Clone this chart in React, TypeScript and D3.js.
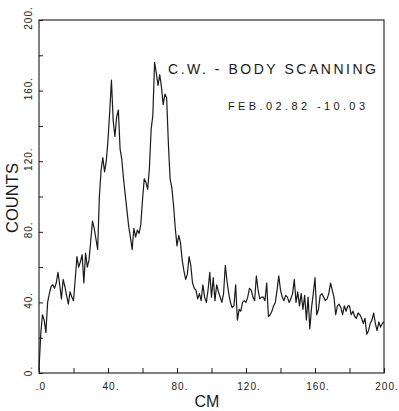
import React, { useEffect, useRef } from 'react';
import * as d3 from 'd3';

// counts per cm (0..200 cm)
const counts: number[] = [
  2, 22, 33, 30, 23, 40, 45, 49, 50, 48,
  51, 57, 50, 42, 53, 49, 44, 39, 46, 43,
  41, 53, 66, 60, 63, 67, 51, 68, 60, 64,
  75, 86, 82, 76, 70, 100, 115, 122, 114, 120,
  132, 148, 166, 143, 134, 145, 149, 127, 121, 110,
  101, 92, 83, 77, 70, 82, 77, 81, 79, 84,
  98, 110, 108, 104, 116, 138, 146, 176, 170, 163,
  169, 162, 152, 158, 156, 130, 110, 105, 95, 82,
  72, 78, 74, 64, 58, 53, 56, 66, 61, 51,
  48, 47, 42, 45, 41, 50, 43, 40, 47, 57,
  43, 54, 41, 50, 46, 43, 40, 45, 61, 52,
  45, 40, 37, 38, 50, 30, 36, 35, 40, 41,
  40, 43, 48, 47, 43, 41, 55, 47, 42, 43,
  43, 41, 51, 32, 33, 35, 38, 40, 47, 55,
  47, 43, 41, 44, 43, 40, 42, 45, 53, 40,
  46, 38, 45, 36, 44, 30, 43, 25, 37, 45,
  54, 33, 36, 44, 45, 43, 41, 42, 45, 51,
  47, 43, 33, 38, 39, 37, 33, 38, 35, 38,
  38, 33, 35, 32, 31, 34, 33, 31, 28, 31,
  22, 24, 28, 30, 34, 28, 24, 29, 26, 28,
  29,
];
const xTickValues = [0, 20, 40, 60, 80, 100, 120, 140, 160, 180, 200];
const xLabels = ['.0', '40.', '80.', '120.', '160.', '200.'];
const yTickValues = [0, 20, 40, 60, 80, 100, 120, 140, 160, 180, 200];
const yLabels = ['0.', '40.', '80.', '120.', '160.', '200.'];
const title = 'C.W. - BODY SCANNING';
const subtitle = 'FEB.02.82 -10.03';

const W = 399;
const H = 411;
const ink = '#1a1a1a';
const font = '"Liberation Sans", "DejaVu Sans", sans-serif';

export default function App() {
  const ref = useRef<SVGSVGElement>(null);

  useEffect(() => {
    const svg = d3.select(ref.current);
    svg.selectAll('*').remove();

    const left = 39, right = 384, top = 20, bottom = 373;
    const x = d3.scaleLinear().domain([0, 200]).range([left, right]);
    const y = d3.scaleLinear().domain([0, 200]).range([bottom, top]);

    // frame
    svg.append('rect')
      .attr('x', left).attr('y', top)
      .attr('width', right - left).attr('height', bottom - top)
      .attr('fill', 'none').attr('stroke', ink).attr('stroke-width', 1.1);

    // bottom axis ticks, pointing inward
    const xAxis = d3.axisTop(x).tickValues(xTickValues).tickSize(5).tickFormat(() => '');
    const gx = svg.append('g').attr('transform', `translate(0,${bottom})`).call(xAxis);
    gx.select('.domain').remove();
    gx.selectAll('line').attr('stroke', ink);

    const yAxis = d3.axisRight(y).tickValues(yTickValues).tickSize(4).tickFormat(() => '');
    const gy = svg.append('g').attr('transform', `translate(${left},0)`).call(yAxis);
    gy.select('.domain').remove();
    gy.selectAll('line').attr('stroke', ink);

    // x labels
    svg.append('g').selectAll('text')
      .data(xLabels)
      .enter().append('text')
      .attr('x', (d, i) => x(i * 40) + (i === 0 ? 2 : 3))
      .attr('y', 390)
      .attr('text-anchor', 'middle')
      .attr('font-family', font)
      .attr('font-size', 10)
      .attr('letter-spacing', 1)
      .attr('fill', ink)
      .text(d => d);

    // y labels, rotated
    svg.append('g').selectAll('text')
      .data(yLabels)
      .enter().append('text')
      .attr('transform', (d, i) => `translate(32,${y(i * 40) - 2}) rotate(-90)`)
      .attr('text-anchor', 'middle')
      .attr('font-family', font)
      .attr('font-size', 10)
      .attr('letter-spacing', 1)
      .attr('fill', ink)
      .text(d => d);

    // axis titles
    svg.append('text')
      .attr('transform', 'translate(18,198) rotate(-90)')
      .attr('text-anchor', 'middle')
      .attr('textLength', 70)
      .attr('lengthAdjust', 'spacingAndGlyphs')
      .attr('font-family', font)
      .attr('font-size', 17)
      .attr('fill', ink)
      .text('COUNTS');
    svg.append('text')
      .attr('x', 207).attr('y', 407)
      .attr('text-anchor', 'middle')
      .attr('font-family', font)
      .attr('font-size', 16)
      .attr('fill', ink)
      .text('CM');

    // titles
    svg.append('text')
      .attr('x', 168).attr('y', 74)
      .attr('textLength', 208)
      .attr('lengthAdjust', 'spacing')
      .attr('font-family', font)
      .attr('font-size', 14)
      .attr('fill', ink)
      .text(title);
    svg.append('text')
      .attr('x', 228).attr('y', 110)
      .attr('textLength', 137)
      .attr('lengthAdjust', 'spacing')
      .attr('font-family', font)
      .attr('font-size', 11)
      .attr('fill', ink)
      .text(subtitle);

    // the scan
    const line = d3.line<number>()
      .x((d, i) => x(i))
      .y(d => y(d));
    svg.append('path')
      .datum(counts)
      .attr('d', line)
      .attr('fill', 'none')
      .attr('stroke', ink)
      .attr('stroke-width', 1.2)
      .attr('stroke-linejoin', 'round');
  }, []);

  return (
    <svg ref={ref} width={W} height={H}
      style={{ position: 'absolute', left: 0, top: 0, background: '#fff' }} />
  );
}
